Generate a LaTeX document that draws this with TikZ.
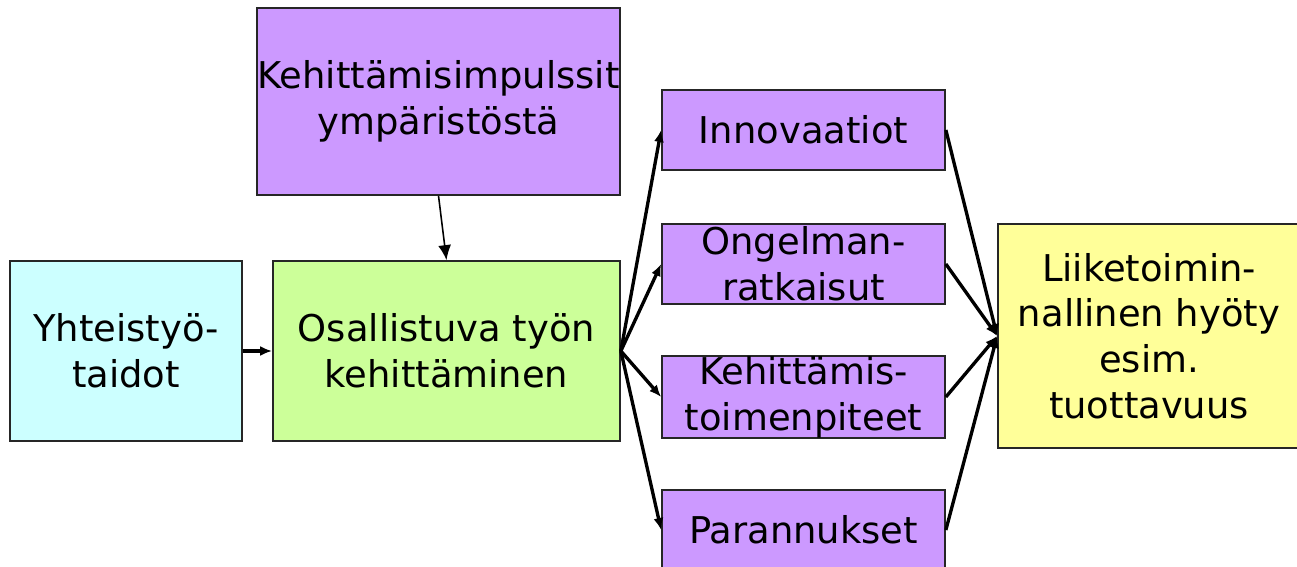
\documentclass[tikz,border=0pt]{standalone}
\usepackage{fontspec}
\setmainfont{DejaVu Sans}
\usetikzlibrary{arrows,arrows.meta}
\definecolor{lila}{HTML}{CC99FF}
\definecolor{syaani}{HTML}{CCFFFF}
\definecolor{vihrea}{HTML}{CCFF99}
\definecolor{keltainen}{HTML}{FFFF99}

\begin{document}
\begin{tikzpicture}[x=0.02cm,y=-0.02cm,
	lohko/.style={draw=black!85,line width=1pt,inner sep=0pt,align=center,
		font=\fontsize{21}{26}\selectfont},
	pieni/.style={lohko,fill=lila,minimum width=5.66cm,minimum height=1.6cm},
	nuoli/.style={-{Latex[length=0.24cm,width=0.2cm]},line width=1.9pt}]
	\useasboundingbox (0,0) rectangle (1297,567);
	\node [lohko,fill=lila,minimum width=7.26cm,minimum height=3.74cm] (impuls) at (438.5,101.5) {Kehittämisimpulssit\\ympäristöstä};
	\node [lohko,fill=syaani,minimum width=4.64cm,minimum height=3.6cm] (yhteis) at (126,351) {Yhteistyö-\\taidot};
	\node [lohko,fill=vihrea,minimum width=6.94cm,minimum height=3.6cm] (osal) at (446.5,351) {Osallistuva työn\\kehittäminen};
	\node [pieni] (inno) at (803.5,130) {Innovaatiot};
	\node [pieni] (ongel) at (803.5,264) {Ongelman-\\ratkaisut};
	\node [pieni] (kehit) at (803.5,397) {Kehittämis-\\toimenpiteet};
	\node [pieni] (paran) at (803.5,530) {Parannukset};
	\node [lohko,fill=keltainen,minimum width=6.04cm,minimum height=4.48cm] (hyoty) at (1149,336) {Liiketoimin-\\nallinen hyöty\\esim.\\tuottavuus};
	\draw [-{Latex[length=0.3cm,width=0.26cm]},line width=0.9pt] (impuls.south) -- (osal.north);
	\draw [nuoli] (yhteis) -- (osal);
	\foreach \k in {inno,ongel,kehit,paran} {
		\draw [nuoli] (osal.east) -- (\k.west);
		\draw [nuoli] (\k.east) -- (hyoty.west);
	}
\end{tikzpicture}
\end{document}
